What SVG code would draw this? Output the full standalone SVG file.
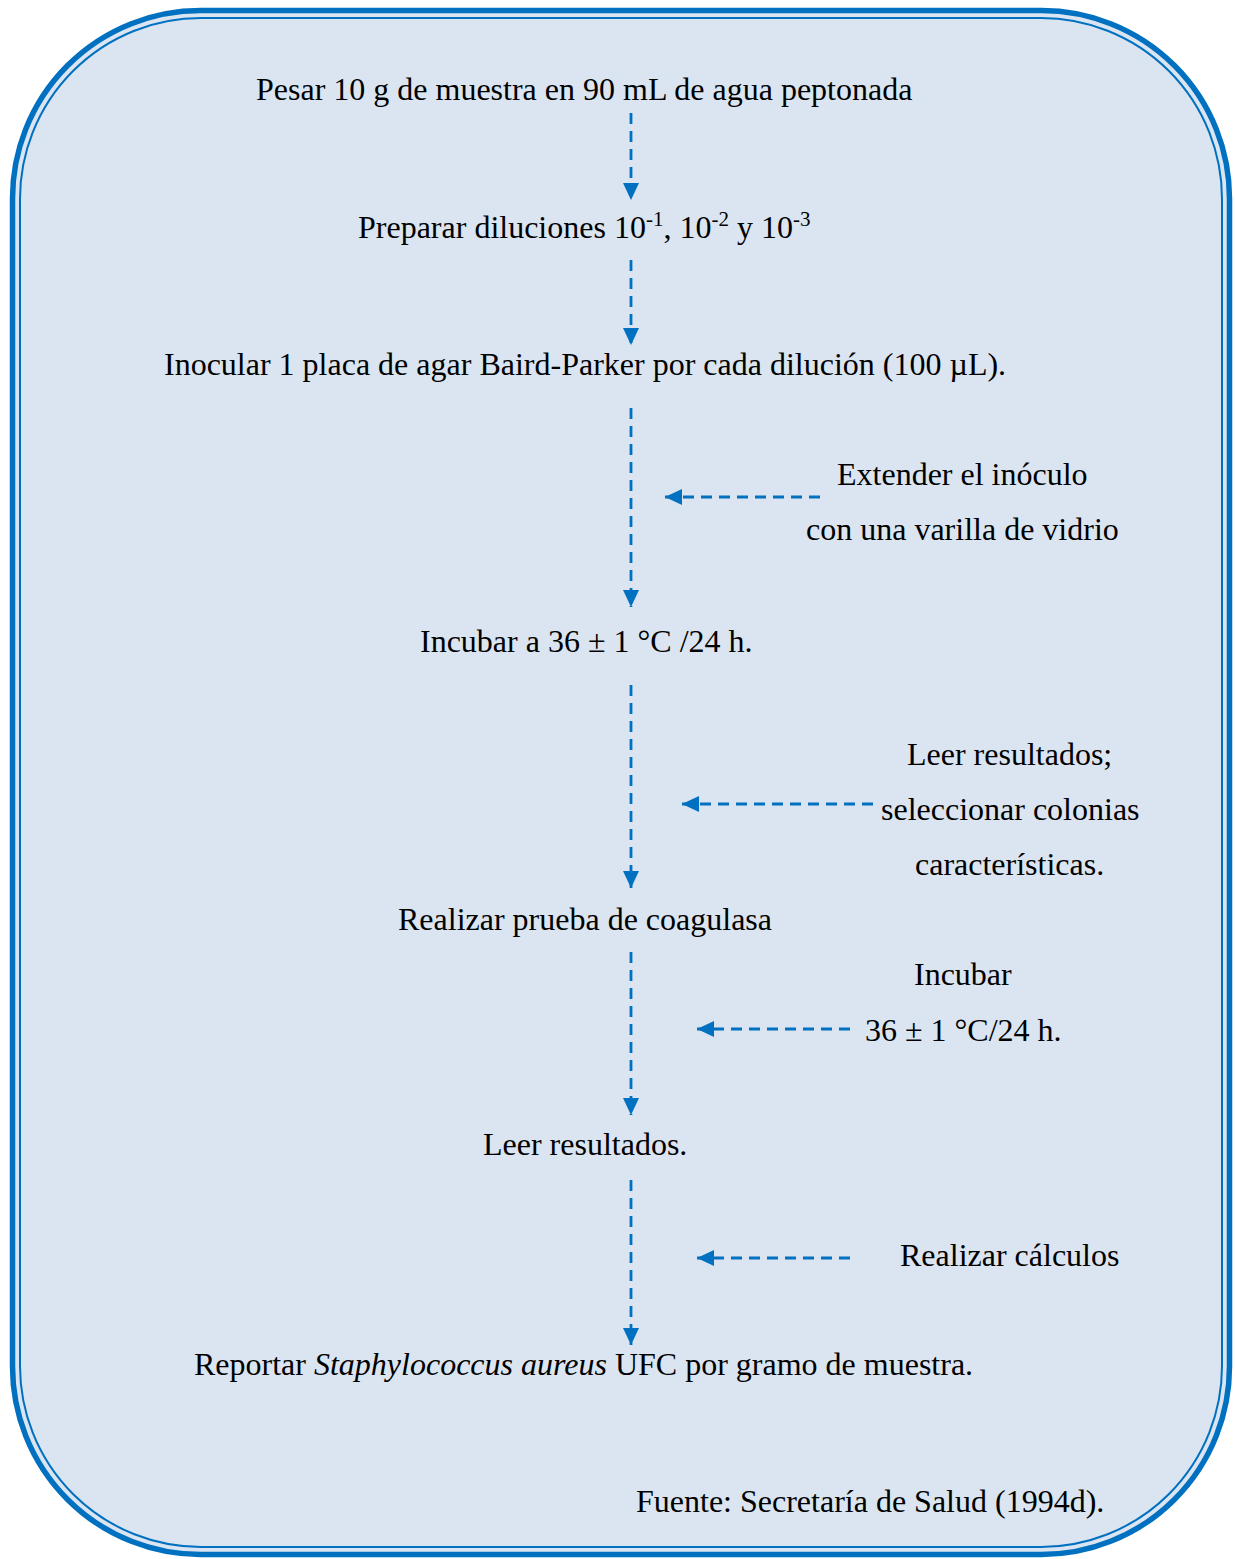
<svg xmlns="http://www.w3.org/2000/svg" width="1235" height="1559" viewBox="0 0 1235 1559">
  <style>
    text { font-family: "Liberation Serif", "Times New Roman", serif; font-size: 32px; fill: #000; }
    .flow { stroke: #0070C0; stroke-width: 2.8; stroke-dasharray: 11 7; fill: none; }
    .sup { font-size: 21px; }
  </style>
  <defs>
    <marker id="head" viewBox="0 0 17 16" refX="17" refY="8" markerWidth="17" markerHeight="16" markerUnits="userSpaceOnUse" orient="auto">
      <path d="M0,0 L17,8 L0,16 Z" fill="#0070C0"/>
    </marker>
  </defs>

  <!-- frame: rounded panel with a double blue rule -->
  <g id="frame">
    <rect x="12.5" y="10.5" width="1217" height="1544" rx="188" ry="188" fill="#DBE5F1" stroke="#0070C0" stroke-width="5.5"/>
    <rect x="20" y="18" width="1202" height="1529" rx="181" ry="181" fill="none" stroke="#0070C0" stroke-width="2"/>
  </g>

  <!-- connectors -->
  <g id="connectors">
    <line class="flow" x1="631" y1="113" x2="631" y2="200" marker-end="url(#head)"/>
    <line class="flow" x1="631" y1="260" x2="631" y2="345" marker-end="url(#head)"/>
    <line class="flow" x1="631" y1="408" x2="631" y2="607" marker-end="url(#head)"/>
    <line class="flow" x1="631" y1="685" x2="631" y2="888" marker-end="url(#head)"/>
    <line class="flow" x1="631" y1="952" x2="631" y2="1115" marker-end="url(#head)"/>
    <line class="flow" x1="631" y1="1180" x2="631" y2="1345" marker-end="url(#head)"/>
    <line class="flow" x1="820" y1="497" x2="665" y2="497" marker-end="url(#head)"/>
    <line class="flow" x1="873" y1="804" x2="682" y2="804" marker-end="url(#head)"/>
    <line class="flow" x1="850" y1="1029" x2="697" y2="1029" marker-end="url(#head)"/>
    <line class="flow" x1="850" y1="1258" x2="697" y2="1258" marker-end="url(#head)"/>
  </g>

  <!-- steps -->
  <g id="step-pesar">
    <text x="256" y="100">Pesar 10 g de muestra en 90 mL de agua peptonada</text>
  </g>
  <g id="step-diluciones">
    <text x="358" y="238">Preparar diluciones 10<tspan class="sup" dy="-12">-1</tspan><tspan dy="12">, 10</tspan><tspan class="sup" dy="-12">-2</tspan><tspan dy="12"> y 10</tspan><tspan class="sup" dy="-12">-3</tspan></text>
  </g>
  <g id="step-inocular">
    <text x="164" y="375">Inocular 1 placa de agar Baird-Parker por cada dilución (100 µL).</text>
  </g>
  <g id="note-extender">
    <text x="837" y="485">Extender el inóculo</text>
    <text x="806" y="540">con una varilla de vidrio</text>
  </g>
  <g id="step-incubar">
    <text x="420" y="652">Incubar a 36 ± 1 °C /24 h.</text>
  </g>
  <g id="note-leer">
    <text x="907" y="765">Leer resultados;</text>
    <text x="881" y="820">seleccionar colonias</text>
    <text x="915" y="875">características.</text>
  </g>
  <g id="step-coagulasa">
    <text x="398" y="930">Realizar prueba de coagulasa</text>
  </g>
  <g id="note-incubar">
    <text x="914" y="985">Incubar</text>
    <text x="865" y="1041">36 ± 1 °C/24 h.</text>
  </g>
  <g id="step-leer">
    <text x="483" y="1155">Leer resultados.</text>
  </g>
  <g id="note-calculos">
    <text x="900" y="1266">Realizar cálculos</text>
  </g>
  <g id="step-reportar">
    <text x="194" y="1375">Reportar <tspan font-style="italic">Staphylococcus aureus</tspan> UFC por gramo de muestra.</text>
  </g>
  <g id="source">
    <text x="636" y="1512">Fuente: Secretaría de Salud (1994d).</text>
  </g>
</svg>
